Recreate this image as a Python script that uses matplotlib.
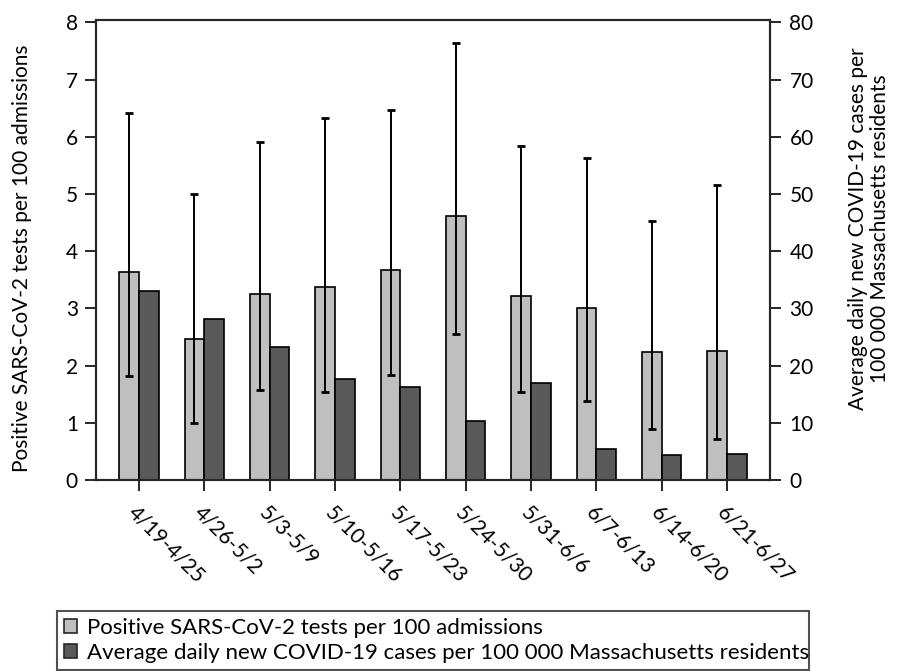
import matplotlib
matplotlib.use("Agg")
import matplotlib.pyplot as plt
import numpy as np

plt.rcParams['font.family'] = ['Lato', 'DejaVu Sans']

# weekly data
weeks = ['4/19-4/25', '4/26-5/2', '5/3-5/9', '5/10-5/16', '5/17-5/23',
         '5/24-5/30', '5/31-6/6', '6/7-6/13', '6/14-6/20', '6/21-6/27']
positive_tests = [3.64, 2.47, 3.26, 3.37, 3.67, 4.62, 3.22, 3.01, 2.23, 2.25]
ci_low = [1.82, 0.99, 1.57, 1.54, 1.83, 2.55, 1.54, 1.38, 0.89, 0.72]
ci_high = [6.42, 5.00, 5.91, 6.32, 6.46, 7.64, 5.83, 5.63, 4.53, 5.16]
daily_cases = [33.0, 28.1, 23.3, 17.7, 16.3, 10.3, 17.0, 5.5, 4.3, 4.5]

light = '#bfbfbf'
dark = '#595959'
ink = '#262626'
fs = 15

fig = plt.figure(figsize=(8.98, 6.71), dpi=100)
ax = fig.add_axes([96 / 898, 1 - 480 / 671, 674 / 898, 460.5 / 671])
ax2 = ax.twinx()

x = np.arange(len(weeks))
w = 0.3
pos = np.array(positive_tests)
yerr = [pos - np.array(ci_low), np.array(ci_high) - pos]

ax.bar(x - w / 2, positive_tests, w, color=light, edgecolor='black',
       linewidth=1.2, zorder=2)
ax.errorbar(x - w / 2, positive_tests, yerr=yerr, fmt='none', ecolor='black',
            elinewidth=1.4, capsize=2.6, capthick=2, zorder=3)
ax2.bar(x + w / 2, daily_cases, w, color=dark, edgecolor='black',
        linewidth=1.2, zorder=2)

ax.set_xlim(-0.657, len(weeks) - 1 + 0.657)
ax.set_ylim(0, 8.05)
ax2.set_ylim(0, 80.5)
ax.set_yticks(range(0, 9))
ax2.set_yticks(range(0, 81, 10))
ax.set_xticks(x)
ax.set_xticklabels(weeks, rotation=-45, ha='left', va='top',
                   rotation_mode='anchor')

for a in (ax, ax2):
    for s in a.spines.values():
        s.set_linewidth(1.5)
        s.set_color(ink)
    a.tick_params(direction='out', length=8, width=1.4, color=ink,
                  labelsize=fs, pad=5)
ax.tick_params(axis='x', pad=8)
ax2.tick_params(axis='y', pad=6)

fig.text(22 / 898, 1 - 258 / 671, 'Positive SARS-CoV-2 tests per 100 admissions',
         rotation=90, ha='center', va='center', fontsize=15)
fig.text(869 / 898, 1 - 229 / 671,
         'Average daily new COVID-19 cases per\n100 000 Massachusetts residents',
         rotation=90, ha='center', va='center', fontsize=15, linespacing=1.15,
         multialignment='center')

handles = [plt.Rectangle((0, 0), 1, 1, facecolor=light, edgecolor=ink, linewidth=1.2),
           plt.Rectangle((0, 0), 1, 1, facecolor=dark, edgecolor=ink, linewidth=1.2)]
labels = ['Positive SARS-CoV-2 tests per 100 admissions',
          'Average daily new COVID-19 cases per 100 000 Massachusetts residents']
leg = fig.legend(handles, labels, loc='upper left',
                 bbox_to_anchor=(57 / 898, 0, 752 / 898, 1 - 611 / 671),
                 mode='expand', fontsize=16, frameon=True, fancybox=False,
                 edgecolor=ink, handlelength=0.6, handleheight=0.6,
                 handletextpad=0.45, borderpad=0.3, labelspacing=0.25,
                 borderaxespad=0)
leg.get_frame().set_linewidth(1.5)

fig.savefig('out.png', dpi=100)
